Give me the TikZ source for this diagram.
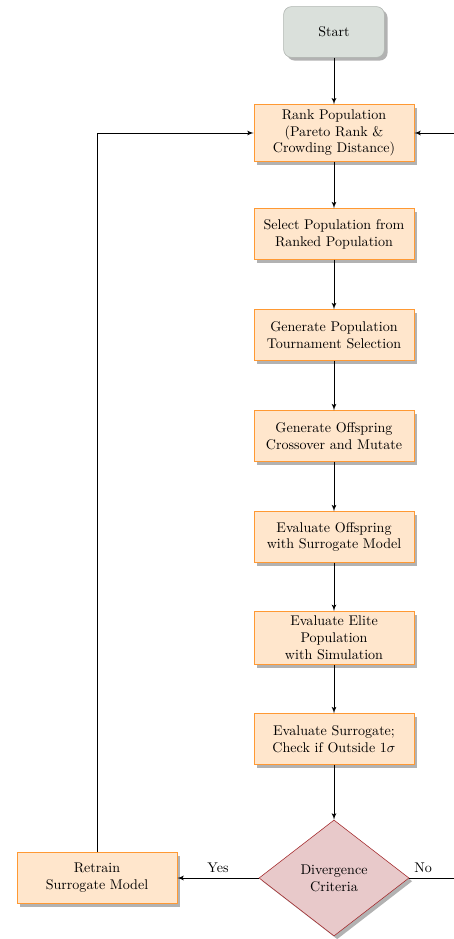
\documentclass[tikz,border=0pt]{standalone}
\usepackage{color}
\usepackage{tikz}
\usetikzlibrary{shapes,shapes.geometric,arrows,calc,shadows,positioning}
\definecolor{startfill}{HTML}{DAE0DB}
\definecolor{startdraw}{HTML}{AEB3AF}
\definecolor{blockfill}{HTML}{FFE6CC}
\definecolor{blockdraw}{HTML}{FF9933}
\definecolor{decidefill}{HTML}{E8C9CA}
\definecolor{decidedraw}{HTML}{A3282B}
\tikzstyle{line} = [draw, semithick, -latex']
\tikzstyle{block} = [draw=blockdraw, fill=blockfill, rectangle, text centered, align=center, text width=3.6cm, inner xsep=0.2cm, inner ysep=0.12cm, minimum height=1.27cm, drop shadow={fill=black!30, opacity=1, shadow xshift=0.08cm, shadow yshift=-0.08cm}]
\tikzstyle{cloud} = [draw=startdraw, fill=startfill, rectangle, text centered, rounded corners=0.2cm, minimum width=2.52cm, minimum height=1.27cm, drop shadow={fill=black!30, opacity=1, shadow xshift=0.08cm, shadow yshift=-0.08cm}]
\tikzstyle{decision} = [draw=decidedraw, fill=decidefill, diamond, align=center, minimum width=3.75cm, minimum height=2.9cm, inner sep=0pt, drop shadow={fill=black!30, opacity=1, shadow xshift=0.08cm, shadow yshift=-0.08cm}]

\begin{document}
\begin{tikzpicture}[node distance=2.525cm, auto]
        \useasboundingbox (0,0) rectangle (11.35,-23.475);
        \node[cloud] (start) at (8.35,-0.8) {Start};
        \node[block, below of=start] (rank) {Rank Population\\(Pareto Rank \&\\Crowding Distance)};
        \node[block, below of=rank] (select) {Select Population from\\Ranked Population};
        \node[block, below of=select] (genpop) {Generate Population\\Tournament Selection};
        \node[block, below of=genpop] (genoff) {Generate Offspring\\Crossover and Mutate};
        \node[block, below of=genoff] (evaloff) {Evaluate Offspring\\with Surrogate Model};
        \node[block, below of=evaloff] (elite) {Evaluate Elite\\Population\\with Simulation};
        \node[block, below of=elite] (evalsur) {Evaluate Surrogate;\\Check if Outside $1\sigma$};
        \node[decision, below of=evalsur, node distance=3.475cm] (decide) {Divergence\\Criteria};
        \node[block, left of=decide, node distance=5.925cm] (retrain) {Retrain\\Surrogate Model};
        \coordinate[right of=decide, node distance=4.2cm] (noend);
        \path[line] (start) -- (rank);
        \path[line] (rank) -- (select);
        \path[line] (select) -- (genpop);
        \path[line] (genpop) -- (genoff);
        \path[line] (genoff) -- (evaloff);
        \path[line] (evaloff) -- (elite);
        \path[line] (elite) -- (evalsur);
        \path[line] (evalsur) -- (decide);
        \path[line] (decide) -- node[above] {Yes} (retrain);
        \path[line] (retrain) |- (rank);
        \path[line] (decide.east) -- node[above right, pos=0] {No} (noend) |- (rank);
    \end{tikzpicture}
\end{document}
